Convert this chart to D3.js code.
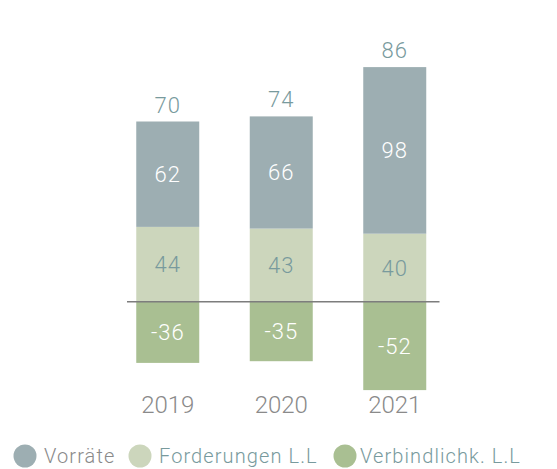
<!DOCTYPE html>
<html>
<head>
<meta charset="utf-8">
<script src="https://cdn.jsdelivr.net/npm/d3@7"></script>
<style>
  body { margin: 0; background: #fff; }
  svg text { font-family: Roboto, "Open Sans", sans-serif; font-weight: 300; }
</style>
</head>
<body>
<div id="chart"></div>
<script>
'use strict';

var years = ['2019', '2020', '2021'];
var vorraete = [62, 66, 98];
var forderungen = [44, 43, 40];
var verbindlichkeiten = [-36, -35, -52];
var totals = [70, 74, 86];
var legendLabels = ['Vorräte', 'Forderungen L.L', 'Verbindlichk. L.L'];

var colors = {vor: '#9daeb2', ford: '#ccd6bc', verb: '#a9bf92'};
var teal = '#789a9d';
var grey = '#8a8a8a';

var width = 557, height = 469;
var baseY = 301.7;
var pxPerUnit = 1.7;

var svg = d3.select('#chart').append('svg')
	.attr('width', width)
	.attr('height', height);

var maxPos = d3.max(years, function(d, i) { return vorraete[i] + forderungen[i]; });
var minNeg = d3.min(verbindlichkeiten);

var x = d3.scaleBand()
	.domain(years)
	.range([111, 451.5])
	.paddingInner(0.445)
	.paddingOuter(0.2225);

var y = d3.scaleLinear()
	.domain([minNeg, maxPos])
	.range([baseY - minNeg * pxPerUnit, baseY - maxPos * pxPerUnit]);

// Stack rows: each segment has y0, y1
var rows = years.map(function(yr, i) {
	return [
		{year: yr, key: 'verb', y0: 0, y1: verbindlichkeiten[i], label: verbindlichkeiten[i], color: colors.verb, text: '#fff'},
		{year: yr, key: 'ford', y0: 0, y1: forderungen[i], label: forderungen[i], color: colors.ford, text: teal},
		{year: yr, key: 'vor', y0: forderungen[i], y1: forderungen[i] + vorraete[i], label: vorraete[i], color: colors.vor, text: '#fff'}
	];
});
var segments = d3.merge(rows);

var g = svg.append('g').attr('class', 'bars');

g.selectAll('rect')
	.data(segments)
	.enter().append('rect')
	.attr('x', function(d) { return x(d.year); })
	.attr('width', x.bandwidth())
	.attr('y', function(d) { return y(Math.max(d.y0, d.y1)); })
	.attr('height', function(d) { return Math.abs(y(d.y0) - y(d.y1)); })
	.attr('fill', function(d) { return d.color; });

g.selectAll('text.seg')
	.data(segments)
	.enter().append('text')
	.attr('class', 'seg')
	.attr('x', function(d) { return x(d.year) + x.bandwidth() / 2; })
	.attr('y', function(d) { return (y(d.y0) + y(d.y1)) / 2; })
	.attr('dy', '0.36em')
	.attr('text-anchor', 'middle')
	.attr('font-size', 22)
	.attr('letter-spacing', 1)
	.attr('fill', function(d) { return d.text; })
	.text(function(d) { return d.label; });

// Totals above bars
g.selectAll('text.total')
	.data(years)
	.enter().append('text')
	.attr('class', 'total')
	.attr('x', function(d) { return x(d) + x.bandwidth() / 2; })
	.attr('y', function(d, i) { return y(vorraete[i] + forderungen[i]) - 9; })
	.attr('text-anchor', 'middle')
	.attr('font-size', 22)
	.attr('letter-spacing', 1)
	.attr('fill', teal)
	.text(function(d, i) { return totals[i]; });

// Zero line
svg.append('line')
	.attr('x1', 127)
	.attr('x2', 439.5)
	.attr('y1', y(0))
	.attr('y2', y(0))
	.attr('stroke', '#7d7d7d')
	.attr('stroke-width', 1.5);

// Year axis
var xAxis = svg.append('g')
	.attr('transform', 'translate(0, 413)')
	.call(d3.axisBottom(x).tickSize(0).tickPadding(0));
xAxis.select('.domain').remove();
xAxis.selectAll('text')
	.attr('dy', 0)
	.attr('font-size', 24)
	.attr('font-family', 'Roboto, sans-serif')
	.attr('font-weight', 300)
	.attr('fill', grey);

// Legend
var legendX = [25, 140, 345];
var legendColors = [colors.vor, colors.ford, colors.verb];
var legendText = [grey, teal, teal];
var legend = svg.append('g').attr('class', 'legend');
var items = legend.selectAll('g')
	.data(legendLabels)
	.enter().append('g')
	.attr('transform', function(d, i) { return `translate(${legendX[i]}, 456)`; });
items.append('circle')
	.attr('r', 11.5)
	.attr('fill', function(d, i) { return legendColors[i]; });
items.append('text')
	.attr('x', function(d, i) { return i === 2 ? 15 : 19; })
	.attr('dy', '0.36em')
	.attr('font-size', 20)
	.attr('letter-spacing', 1.1)
	.attr('fill', function(d, i) { return legendText[i]; })
	.text(function(d) { return d; });
</script>
</body>
</html>
